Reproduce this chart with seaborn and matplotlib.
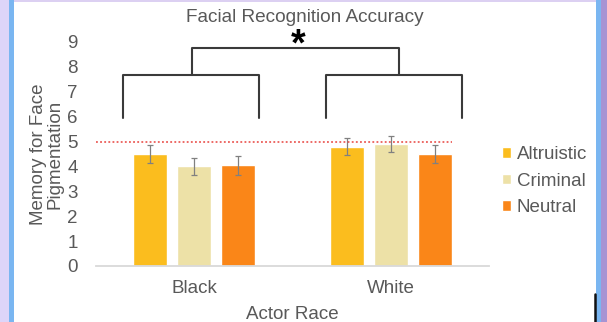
import numpy as np
import pandas as pd
import matplotlib.pyplot as plt
import seaborn as sns
from matplotlib.patches import Rectangle
from matplotlib.lines import Line2D

# Datos del grafico
races = ['Black', 'White']
conditions = ['Altruistic', 'Criminal', 'Neutral']
black_means = [4.5, 4.0, 4.05]
white_means = [4.8, 4.9, 4.5]
black_err = [0.36, 0.33, 0.38]
white_err = [0.33, 0.33, 0.35]
chance_level = 5
yticks = list(range(10))
colors = ['#FBBD1E', '#EDE1A7', '#FA8618']

df = pd.DataFrame({
    'Race': np.repeat(races, len(conditions)),
    'Condition': conditions * len(races),
    'Score': black_means + white_means,
    'Err': black_err + white_err,
})

sns.set_style('white')
plt.rcParams['font.family'] = ['Liberation Sans', 'DejaVu Sans']
txt = '#595959'
W, H = 607, 322

fig = plt.figure(figsize=(W / 100, H / 100), dpi=100, facecolor='white')
ax = fig.add_axes([96 / W, 1 - 266 / H, (489 - 96) / W, (266 - 42) / H])

sns.barplot(data=df, x='Race', y='Score', hue='Condition', palette=colors,
            width=0.672, gap=0.23, errorbar=None, saturation=1, ax=ax)

# Barras de error
for cont, cond in zip(ax.containers, conditions):
    sub = df[df['Condition'] == cond]
    xs = [b.get_x() + b.get_width() / 2 for b in cont]
    ax.errorbar(xs, sub['Score'], yerr=sub['Err'], fmt='none',
                ecolor='#808080', elinewidth=0.9, capsize=2, capthick=0.9)

# Linea de referencia
ax.plot([-0.5, 1.31], [chance_level, chance_level], color='#E8413C',
        ls=(0, (1.2, 1.5)), lw=1.1)

# Corchetes de significancia
bk = '#3a3a3a'
ax.plot([-0.363, -0.363, 0.33, 0.33], [5.94, 7.67, 7.67, 5.94], color=bk, lw=1.5, clip_on=False)
ax.plot([0.67, 0.67, 1.363, 1.363], [5.94, 7.67, 7.67, 5.94], color=bk, lw=1.5, clip_on=False)
ax.plot([-0.01, -0.01, 1.04, 1.04], [7.67, 8.76, 8.76, 7.67], color=bk, lw=1.5, clip_on=False)
ax.text(0.53, 8.84, '*', ha='center', va='center', fontsize=27, fontweight='bold',
        color='black', clip_on=False)

ax.set_xlim(-0.5, 1.5)
ax.set_ylim(0, 9)
ax.set_yticks(yticks)
for s in ['top', 'right', 'left']:
    ax.spines[s].set_visible(False)
ax.spines['bottom'].set_color('#D9D9D9')
ax.spines['bottom'].set_linewidth(1.3)
ax.tick_params(axis='both', length=0, labelsize=13.5, labelcolor=txt)
ax.tick_params(axis='y', pad=13)
ax.tick_params(axis='x', pad=10)
ax.set_xlabel('Actor Race', fontsize=13.5, color=txt, labelpad=6.5)
ax.set_ylabel('Memory for Face\nPigmentation', fontsize=13.5, color=txt, linespacing=0.95)
ax.yaxis.set_label_coords(-0.082, 0.5)

fig.text(305 / W, 1 - 18 / H, 'Facial Recognition Accuracy', ha='center', va='center',
         fontsize=13.7, color=txt)

handles, labels = ax.get_legend_handles_labels()
ax.legend(handles, labels, loc='center left', bbox_to_anchor=(502 / W, 1 - 181 / H),
          bbox_transform=fig.transFigure, frameon=False, fontsize=13.5,
          handlelength=0.5, handleheight=0.5, handletextpad=0.3, labelspacing=0.5,
          borderpad=0, borderaxespad=0, labelcolor=txt)

# Marco de la imagen
def rect(x0, y0, x1, y1, c):
    fig.add_artist(Rectangle((x0 / W, 1 - y1 / H), (x1 - x0) / W, (y1 - y0) / H,
                             transform=fig.transFigure, color=c, lw=0, zorder=-5))

rect(0, 0, 9, H, '#DDD5F9')
rect(9, 0, 14, H, '#7AB6F1')
rect(14, 0, 596, 2, '#DCD0F2')
rect(596, 0, 601, H, '#7AB6F1')
rect(601, 0, W, H, '#A793D3')
fig.add_artist(Line2D([595 / W, 595 / W], [0, 1 - 294 / H], transform=fig.transFigure,
                      color='#111111', lw=1.8))

fig.savefig('out.png', dpi=100, facecolor=fig.get_facecolor())
